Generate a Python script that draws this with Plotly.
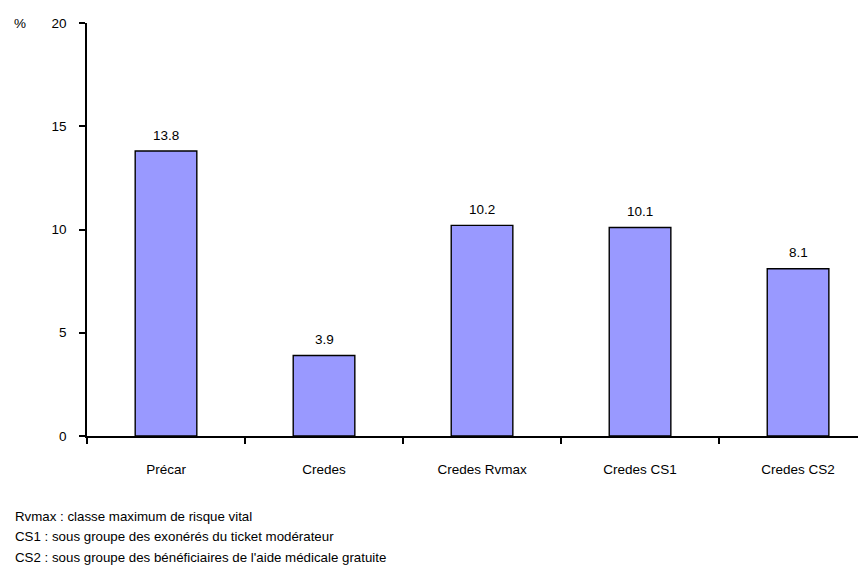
import plotly.graph_objects as go

categories = ["Précar", "Credes", "Credes Rvmax", "Credes CS1", "Credes CS2"]
values = [13.8, 3.9, 10.2, 10.1, 8.1]
value_labels = ["13.8", "3.9", "10.2", "10.1", "8.1"]
y_ticks = [0, 5, 10, 15, 20]
footnotes = [
    "Rvmax : classe maximum de risque vital",
    "CS1 : sous groupe des exonérés du ticket modérateur",
    "CS2 : sous groupe des bénéficiaires de l'aide médicale gratuite",
]

FONT = "Liberation Sans, Arial, sans-serif"

fig = go.Figure()
fig.add_trace(go.Bar(
    x=categories, y=values, width=0.39,
    marker=dict(color="#9999FF", line=dict(color="black", width=1.4)),
    hoverinfo="skip",
))

for c, v, t in zip(categories, values, value_labels):
    fig.add_annotation(x=c, y=v, text=t, showarrow=False, yshift=16,
                       font=dict(family=FONT, size=13.5, color="black"))

fig.add_annotation(xref="paper", yref="paper", x=-0.0963, y=1.0, text="%",
                   showarrow=False, xanchor="left", yanchor="middle",
                   font=dict(family=FONT, size=13.5, color="black"))

for i, f in enumerate(footnotes):
    fig.add_annotation(xref="paper", yref="paper", x=-0.095, y=-0.1947 - i * 0.0493,
                       text=f, showarrow=False, xanchor="left", yanchor="middle",
                       font=dict(family=FONT, size=13.3, color="black"))

fig.update_layout(
    width=866, height=571,
    margin=dict(l=79, r=8, t=12, b=143),
    paper_bgcolor="white", plot_bgcolor="white",
    showlegend=False,
    font=dict(family=FONT, size=13.5, color="black"),
    xaxis=dict(
        range=[-0.5, 4.43], tickson="boundaries", ticks="outside", ticklen=6,
        tickwidth=1.5, tickcolor="black", showline=True, linecolor="black",
        linewidth=1.5, showgrid=False, ticklabelstandoff=20, fixedrange=True,
        tickfont=dict(family=FONT, size=13.5),
    ),
    yaxis=dict(
        range=[0, 20], tickvals=y_ticks, ticks="outside", ticklen=6,
        tickwidth=1.5, tickcolor="black", showline=True, linecolor="black",
        linewidth=1.5, showgrid=False, zeroline=False, ticklabelstandoff=10,
        fixedrange=True, tickfont=dict(family=FONT, size=13.5),
    ),
)

fig.write_html("out.html")
